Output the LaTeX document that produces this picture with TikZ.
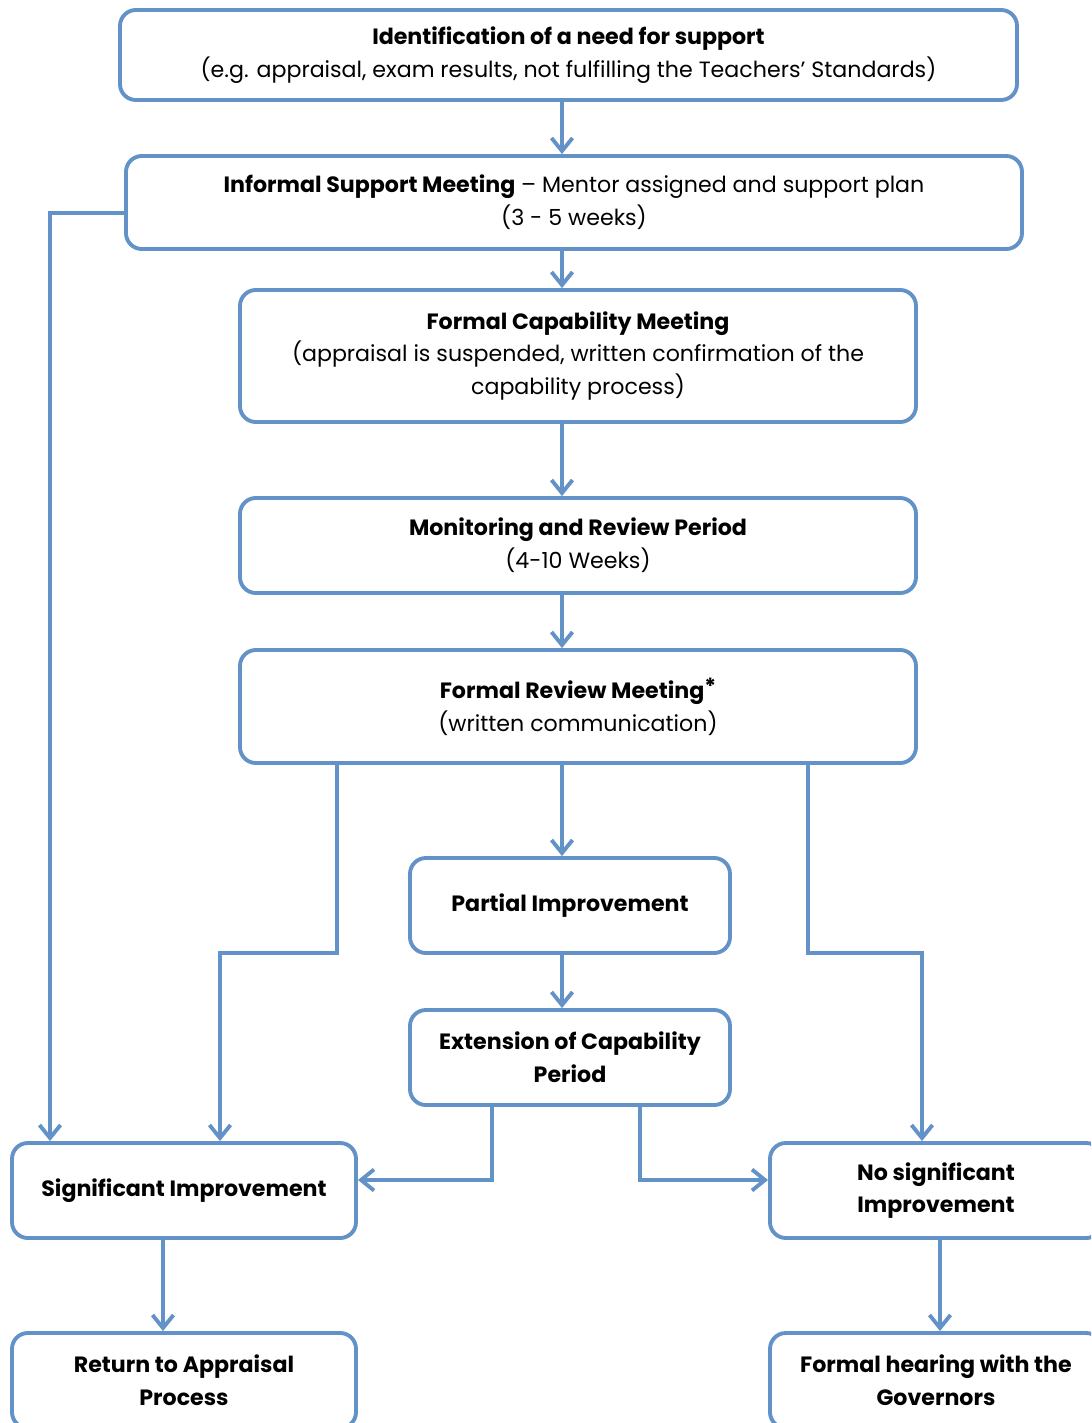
\documentclass[tikz,border=0pt]{standalone}
\usepackage{fontspec}
\setmainfont{Poppins}
\usepackage{tikz}
\usetikzlibrary{arrows.meta}

\definecolor{flowblue}{RGB}{98,146,200}

\tikzset{
  stage/.style={draw=flowblue, line width=1.1pt, rounded corners=4.5pt, fill=white,
    align=center, inner sep=2pt, font=\fontsize{6.3}{9.3}\selectfont},
  flow/.style={draw=flowblue, line width=1.1pt,
    -{Straight Barb[length=1.3mm,width=2.1mm]}},
}

\begin{document}
\begin{tikzpicture}
   \clip (0,0) rectangle (10.91,-14.23);

   \draw (5.685,-0.55) node[stage, minimum width=8.97cm, minimum height=0.90cm] (ident)
      {\textbf{Identification of a need for support}\\(e.g. appraisal, exam results, not fulfilling the Teachers’ Standards)};
   \draw (5.74,-2.025) node[stage, minimum width=8.96cm, minimum height=0.93cm] (inform)
      {\textbf{Informal Support Meeting} – Mentor assigned and support plan\\(3 - 5 weeks)};
   \draw (5.78,-3.56) node[stage, minimum width=6.76cm, minimum height=1.32cm] (fcap)
      {\textbf{Formal Capability Meeting}\\(appraisal is suspended, written confirmation of the\\capability process)};
   \draw (5.78,-5.455) node[stage, minimum width=6.76cm, minimum height=0.95cm] (monit)
      {\textbf{Monitoring and Review Period}\\(4-10 Weeks)};
   \draw (5.78,-7.065) node[stage, minimum width=6.76cm, minimum height=1.13cm] (frev)
      {\textbf{Formal Review Meeting\raisebox{0.35ex}{*}}\\(written communication)};
   \draw (5.70,-9.055) node[stage, minimum width=3.20cm, minimum height=0.95cm] (partial)
      {\textbf{Partial Improvement}};
   \draw (5.70,-10.575) node[stage, minimum width=3.20cm, minimum height=0.95cm] (ext)
      {\textbf{Extension of Capability}\\\textbf{Period}};
   \draw (1.84,-11.905) node[stage, minimum width=3.44cm, minimum height=0.95cm] (sig)
      {\textbf{Significant Improvement}};
   \draw (9.36,-11.905) node[stage, minimum width=3.32cm, minimum height=0.95cm] (nosig)
      {\textbf{No significant}\\\textbf{Improvement}};
   \draw (1.84,-13.805) node[stage, minimum width=3.44cm, minimum height=0.95cm] (ret)
      {\textbf{Return to Appraisal}\\\textbf{Process}};
   \draw (9.36,-13.805) node[stage, minimum width=3.32cm, minimum height=0.95cm] (hear)
      {\textbf{Formal hearing with the}\\\textbf{Governors}};

   \coordinate (spine) at (5.62,0);
   \coordinate (leftrail) at (0.50,0);
   \coordinate (sigin) at (2.20,0);
   \coordinate (nosigin) at (9.22,0);
   \coordinate (frevl) at (3.37,0);
   \coordinate (frevr) at (8.08,0);
   \coordinate (extl) at (4.92,0);
   \coordinate (extr) at (6.40,0);
   \coordinate (sigout) at (1.63,0);
   \coordinate (nosigout) at (9.40,0);
   \coordinate (informrow) at (0,-2.13);
   \coordinate (branch) at (0,-9.53);
   \coordinate (extrow) at (0,-11.80);

   \draw[flow] (ident.south -| spine) -- (inform.north -| spine);
   \draw[flow] (inform.south -| spine) -- (fcap.north -| spine);
   \draw[flow] (fcap.south -| spine) -- (monit.north -| spine);
   \draw[flow] (monit.south -| spine) -- (frev.north -| spine);
   \draw[flow] (frev.south -| spine) -- (partial.north -| spine);
   \draw[flow] (partial.south -| spine) -- (ext.north -| spine);

   \draw[flow] (inform.west |- informrow) -| (sig.north -| leftrail);
   \draw[flow] (frev.south -| frevl) |- (branch -| sigin) -- (sig.north -| sigin);
   \draw[flow] (frev.south -| frevr) |- (branch -| nosigin) -- (nosig.north -| nosigin);
   \draw[flow] (ext.south -| extl) |- (sig.east |- extrow);
   \draw[flow] (ext.south -| extr) |- (nosig.west |- extrow);
   \draw[flow] (sig.south -| sigout) -- (ret.north -| sigout);
   \draw[flow] (nosig.south -| nosigout) -- (hear.north -| nosigout);
\end{tikzpicture}
\end{document}
